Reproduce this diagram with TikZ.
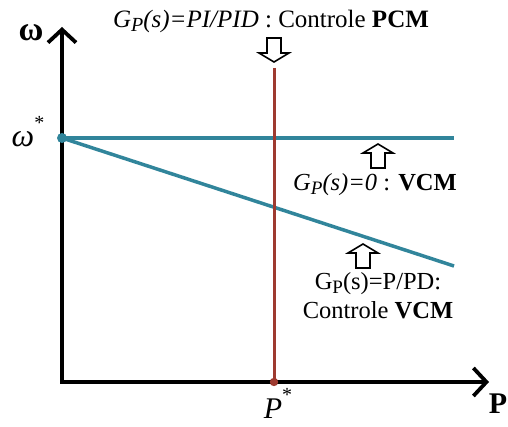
\documentclass[tikz,border=0pt]{standalone}
\usepackage{fontspec}
\setmainfont{Liberation Serif}
\usetikzlibrary{arrows.meta}
\definecolor{tealline}{RGB}{49,133,155}
\definecolor{brick}{RGB}{158,58,48}
\begin{document}
\begin{tikzpicture}[x=1pt,y=-1pt,
  axis/.style={line width=3.8pt,-{Straight Barb[length=13pt,width=28pt]}},
  tline/.style={line width=3.5pt,tealline},
  rline/.style={line width=3pt,brick},
  lbl/.style={inner sep=0pt,font=\fontsize{24.5}{28}\selectfont},
  big/.style={inner sep=0pt,font=\fontsize{32}{36}\selectfont},
  hollow/.style={draw=black,line width=1.6pt,fill=white,line join=miter},
  pics/hollowup/.style={code={
    \draw[hollow] (0,0) -- (15,9) -- (7,9) -- (7,24) -- (-7,24) -- (-7,9) -- (-15,9) -- cycle;}},
  pics/hollowdown/.style={code={
    \draw[hollow] (0,0) -- (15,-9) -- (7,-9) -- (7,-24) -- (-7,-24) -- (-7,-9) -- (-15,-9) -- cycle;}}
]
\useasboundingbox (0,0) rectangle (508,427);
% coordinates
\coordinate (O) at (62,382);
\coordinate (ytip) at (62,27);
\coordinate (xtip) at (489,382);
\coordinate (ws) at (62,138);
\coordinate (hend) at (454,138);
\coordinate (send) at (454,266);
\coordinate (rtop) at (274,68);
\coordinate (ps) at (274,382);
% lines
\draw[tline] (ws) -- (hend);
\draw[tline] (ws) -- (send);
\draw[rline] (rtop) -- (ps);
\draw[axis] ([yshift=1.9pt]O) -- (ytip);
\draw[axis] ([xshift=-1.9pt]O) -- (xtip);
\fill[tealline] (ws) circle (5pt);
\fill[brick] (ps) circle (4.2pt);
% hollow arrows
\pic at (274,62) {hollowdown};
\pic at (378,144) {hollowup};
\pic at (363,244) {hollowup};
% labels
\node[big,font=\fontsize{34}{38}\selectfont] (wlab) at (31,33) {\textbf{ω}};
\node[big,anchor=base] (wstar) at (28,147) {\textit{ω}\raisebox{0.55em}{\fontsize{20}{22}\selectfont*}};
\node[big,anchor=base,font=\fontsize{30}{34}\selectfont] (pstar) at (278,418) {\textit{P}\raisebox{0.55em}{\fontsize{20}{22}\selectfont*}};
\node[big,anchor=base east,font=\fontsize{30}{34}\selectfont] (plab) at (507.5,413) {\textbf{P}};
\node[lbl,font=\fontsize{25}{28}\selectfont] (top) at (271,21) {\textit{G{\fontsize{20}{22}\selectfont\raisebox{-0.2em}{P}}(s)=PI/PID} : Controle \textbf{PCM}};
\node[lbl] (vcm0) at (375,185) {\textit{G{\fontsize{19}{22}\selectfont\raisebox{-0.2em}{P}}(s)=0} : \textbf{VCM}};
\node[lbl,align=center] (vcmp) at (378,296) {G{\fontsize{19}{22}\selectfont\raisebox{-0.2em}{P}}(s)=P/PD:\\[1pt]Controle \textbf{VCM}};
\end{tikzpicture}
\end{document}
